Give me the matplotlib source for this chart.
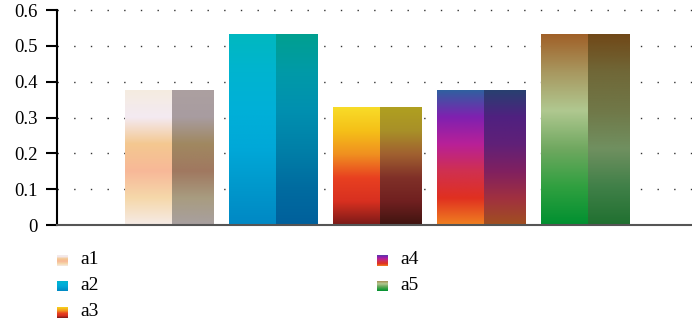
import numpy as np
import matplotlib.pyplot as plt
from matplotlib.colors import LinearSegmentedColormap

labels = ['a1', 'a2', 'a3', 'a4', 'a5']
values = [0.374, 0.533, 0.329, 0.374, 0.533]

# gradient stops, bottom -> top, for the front (left) and side (right) faces
front = [
    ['#f6ebe6', '#f5d8aa', '#f8b898', '#f4c890', '#f3eaf2', '#f5ece0'],
    ['#0088c4', '#0098cc', '#00a8d8', '#00b0d8', '#00b4d0', '#00b8c0'],
    ['#7a1a18', '#d83020', '#e84020', '#f09020', '#f5c018', '#f8dc28'],
    ['#f08020', '#e03020', '#d03050', '#b82098', '#8020b0', '#3060a0'],
    ['#009030', '#30a040', '#70a860', '#b0c890', '#a89860', '#a06028'],
]
side = [
    ['#a8a0a0', '#a89c80', '#a07860', '#a08860', '#a89ca0', '#aca0a0'],
    ['#00609c', '#006ca0', '#0080a8', '#0090b0', '#009aa8', '#00a090'],
    ['#401410', '#702020', '#803028', '#a06030', '#a89028', '#b0a020'],
    ['#a05020', '#a03040', '#802060', '#602078', '#502080', '#284070'],
    ['#207030', '#408048', '#709060', '#707848', '#706838', '#704818'],
]

fig = plt.figure(figsize=(6.92, 3.29), dpi=100)
ax = fig.add_axes([0.0824, 0.316, 0.9176, 0.6535])

x = np.arange(len(labels))
width = 0.846
split = 0.53
grad = np.linspace(0, 1, 256).reshape(-1, 1)

for i in range(len(labels)):
    x0 = x[i] - width / 2
    xs = x0 + width * split
    x1 = x[i] + width / 2
    v = values[i]
    cm1 = LinearSegmentedColormap.from_list('f%d' % i, front[i])
    cm2 = LinearSegmentedColormap.from_list('s%d' % i, side[i])
    ax.imshow(grad, cmap=cm1, extent=(x0, xs, 0, v), origin='lower',
              aspect='auto', zorder=2, interpolation='bilinear')
    ax.imshow(grad, cmap=cm2, extent=(xs, x1, 0, v), origin='lower',
              aspect='auto', zorder=2, interpolation='bilinear')

ax.set_xlim(-1.08, 5.03)
ax.set_ylim(0, 0.6)
ax.set_yticks([0, 0.1, 0.2, 0.3, 0.4, 0.5, 0.6])
ax.set_yticklabels(['0', '0.1', '0.2', '0.3', '0.4', '0.5', '0.6'],
                   fontfamily='Liberation Serif', fontsize=13.5)
ax.set_xticks([])
for yv in [0.1, 0.2, 0.3, 0.4, 0.5, 0.6]:
    ax.axhline(yv, color='#333333', linestyle=(0, (1, 11)), linewidth=1,
               zorder=1, clip_on=False)
ax.spines['top'].set_visible(False)
ax.spines['right'].set_visible(False)
ax.spines['left'].set_linewidth(1.5)
ax.spines['bottom'].set_color('#555555')
ax.spines['bottom'].set_linewidth(1.5)
ax.tick_params(axis='y', length=8, width=1.5, pad=6)

# legend, two columns below the plot
cols = [0, 0, 0, 1, 1]
rows = [0, 1, 2, 0, 1]
for i, lab in enumerate(labels):
    lx = 57 + cols[i] * 320
    ly = 260 + rows[i] * 26
    sq = fig.add_axes([lx / 692, 1 - (ly + 5.5) / 329, 11 / 692, 11 / 329])
    mix = LinearSegmentedColormap.from_list('l%d' % i, front[i])
    sq.imshow(grad, cmap=mix, origin='lower', aspect='auto')
    sq.axis('off')
    fig.text((lx + 23) / 692, 1 - ly / 329, lab, va='center', ha='left',
             fontfamily='Liberation Serif', fontsize=14)

fig.savefig('out.png', dpi=100)
